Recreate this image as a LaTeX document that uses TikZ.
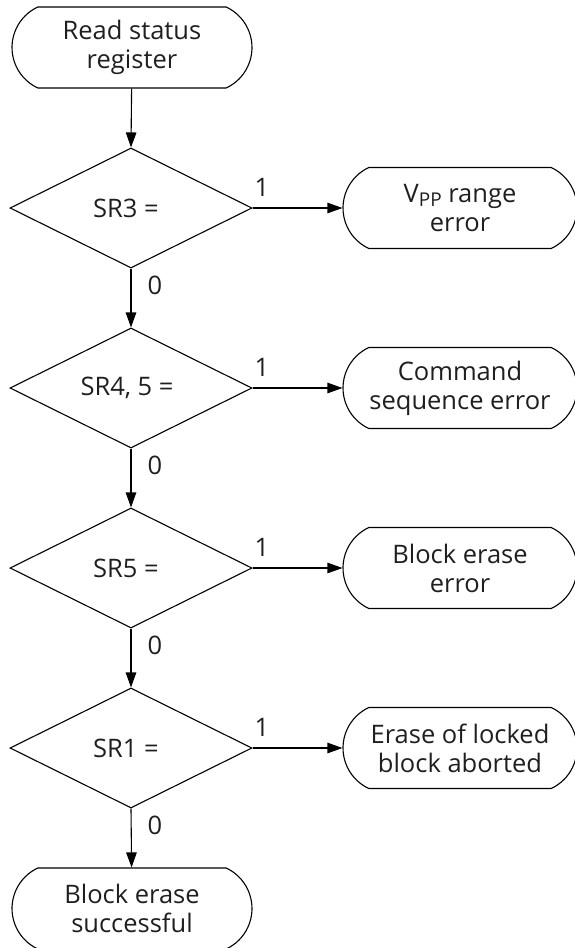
\documentclass[tikz,border=0pt]{standalone}
\usepackage{fontspec}
\setmainfont{Open Sans}
\usetikzlibrary{shapes.geometric,shapes.misc,arrows.meta}
\begin{document}
\begin{tikzpicture}[x=1pt,y=-1pt,
  every node/.style={font=\fontsize{25.5}{29}\selectfont, text=black!88},
  term/.style={draw, rounded rectangle, rounded rectangle arc length=130, line width=1.1pt,
    minimum width=240pt, minimum height=81pt, inner sep=0pt, align=center},
  outbox/.style={term, minimum width=234pt},
  dec/.style={draw, diamond, aspect=2, line width=1.1pt, minimum width=242pt, minimum height=120pt, inner sep=0pt},
  lbl/.style={inner sep=0pt},
  flow/.style={line width=1.1pt, -{Triangle[length=15pt,width=10.5pt]}},
  plain/.style={line width=1.1pt}
]
\useasboundingbox (0,0) rectangle (574,948);
\node[term] (start) at (132,47.5) {Read status\\register};
\node[dec] (d1) at (131,208) {};
\node[dec] (d2) at (131,388) {};
\node[dec] (d3) at (131,568) {};
\node[dec] (d4) at (131,748) {};
\node[lbl] (t1) at (126,208) {SR3 =};
\node[lbl] (t2) at (127,388) {SR4, 5 =};
\node[lbl] (t3) at (126,568) {SR5 =};
\node[lbl] (t4) at (126,748) {SR1 =};
\node[outbox] (b1) at (460,208) {V\raisebox{-0.3ex}{\fontsize{19}{19}\selectfont PP} range\\error};
\node[outbox] (b2) at (460,388) {Command\\sequence error};
\node[outbox] (b3) at (460,568) {Block erase\\error};
\node[outbox] (b4) at (460,748) {Erase of locked\\block aborted};
\node[term] (end) at (132,908.5) {Block erase\\successful};
\draw[flow] (start) -- (d1.north);
\draw[flow] (d1.south) -- (d2.north);
\draw[flow] (d2.south) -- (d3.north);
\draw[flow] (d3.south) -- (d4.north);
\draw[flow] (d4.south) -- (end);
\draw[flow] (d1.east) -- (b1);
\draw[flow] (d2.east) -- (b2);
\draw[flow] (d3.east) -- (b3);
\draw[flow] (d4.east) -- (b4);
\foreach \i/\y in {1/208,2/388,3/568,4/748}{
  \node[lbl] (one\i) at (262,\y-21) {1};
  \node[lbl] (zero\i) at (155,\y+77) {0};
}
\end{tikzpicture}
\end{document}
